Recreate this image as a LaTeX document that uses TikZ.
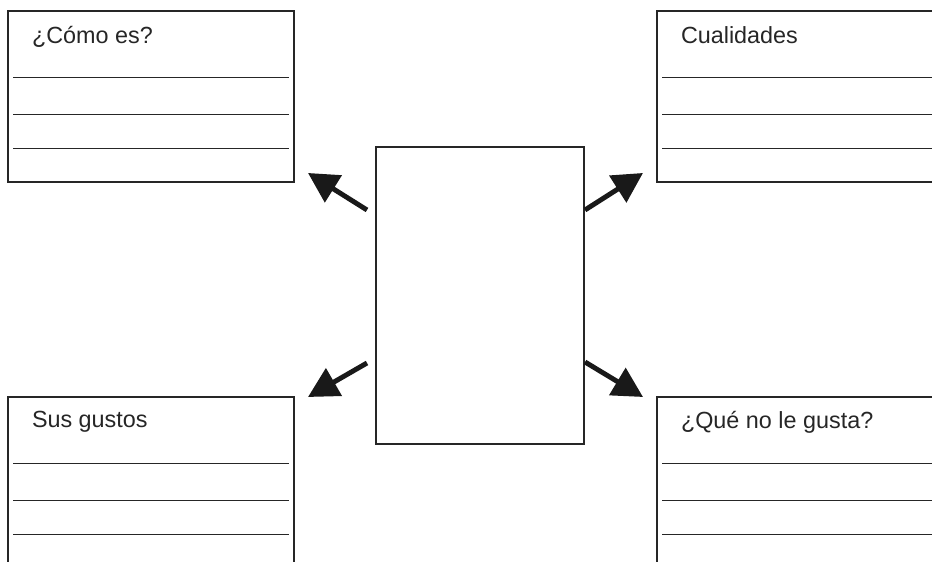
\documentclass[tikz,border=0pt]{standalone}
\usepackage{xcolor}
\usepackage{fontspec}
\setmainfont{Liberation Sans}
\usetikzlibrary{arrows.meta}

\begin{document}
\begin{tikzpicture}[every node/.style={inner sep=0pt, outer sep=0pt},
    ficha/.style={draw=black!85, line width=0.8pt, rectangle, minimum width=5.72cm, minimum height=3.42cm},
    titulo/.style={anchor=base west, text=black!85, font=\fontsize{13.3}{16}\selectfont},
    renglon/.style={draw=black!85, line width=1pt},
    flecha/.style={-{Triangle[length=6mm, width=6.2mm]}, line width=2.8pt, black!90}]

    \useasboundingbox (0,0) rectangle (18.64,11.24);
    \clip (0,0) rectangle (18.64,11.24);

    % Define nodes
    \node (centro) [draw=black!85, line width=0.8pt, minimum width=4.16cm, minimum height=5.94cm] at (9.60,5.33) {};

    \node (como) [ficha] at (3.02,9.31) {};
    \node (cual) [ficha] at (16.00,9.31) {};
    \node (gustos) [ficha] at (3.02,1.59) {};
    \node (nogusta) [ficha] at (16.00,1.59) {};

    \node (tcomo) [titulo] at ([shift={(0.48,-0.66)}]como.north west) {¿Cómo es?};
    \node (tcual) [titulo] at ([shift={(0.48,-0.66)}]cual.north west) {Cualidades};
    \node (tgustos) [titulo] at ([shift={(0.48,-0.62)}]gustos.north west) {Sus gustos};
    \node (tnogusta) [titulo] at ([shift={(0.48,-0.64)}]nogusta.north west) {¿Qué no le gusta?};

    % Lines to write on
    \foreach \f in {como, cual, gustos, nogusta}
        \foreach \d in {1.33, 2.07, 2.75}
            \draw[renglon] ([shift={(0.1,-\d)}]\f.north west) -- ([shift={(-0.1,-\d)}]\f.north east);

    % Define connections
    \coordinate (s1) at (7.34,7.04);  \coordinate (p1) at (6.16,7.78);
    \coordinate (s2) at (11.70,7.04); \coordinate (p2) at (12.86,7.78);
    \coordinate (s3) at (7.34,3.98);  \coordinate (p3) at (6.16,3.30);
    \coordinate (s4) at (11.70,4.00); \coordinate (p4) at (12.86,3.30);

    \draw[flecha] (s1) -- (p1);
    \draw[flecha] (s2) -- (p2);
    \draw[flecha] (s3) -- (p3);
    \draw[flecha] (s4) -- (p4);

\end{tikzpicture}
\end{document}
